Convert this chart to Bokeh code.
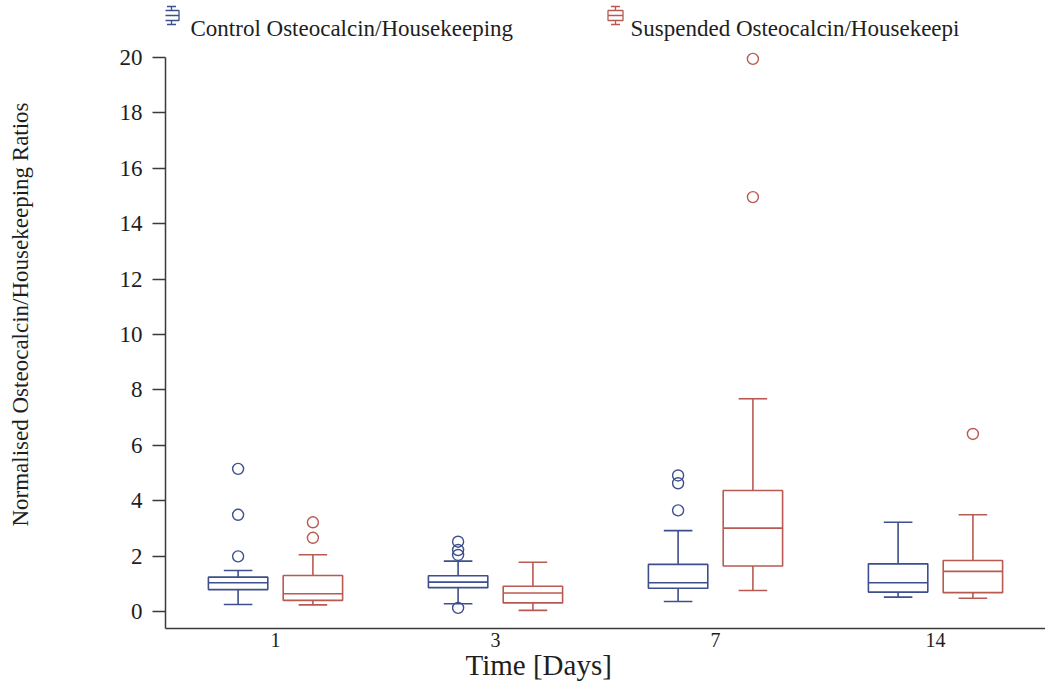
from bokeh.plotting import figure
from bokeh.models import Range1d, Label, ColumnDataSource, FixedTicker, Title
from bokeh.transform import dodge
from bokeh.embed import file_html
from bokeh.resources import INLINE

# ---- data -------------------------------------------------------------
days = ["1", "3", "7", "14"]

# per-day box statistics: lower whisker, Q1, median, Q3, upper whisker
control_lower = [0.25, 0.28, 0.36, 0.52]
control_q1 = [0.79, 0.86, 0.84, 0.70]
control_median = [1.04, 1.06, 1.04, 1.04]
control_q3 = [1.24, 1.29, 1.70, 1.72]
control_upper = [1.48, 1.82, 2.92, 3.22]

suspended_lower = [0.24, 0.04, 0.76, 0.48]
suspended_q1 = [0.40, 0.31, 1.64, 0.68]
suspended_median = [0.64, 0.67, 3.01, 1.45]
suspended_q3 = [1.30, 0.91, 4.37, 1.84]
suspended_upper = [2.05, 1.78, 7.68, 3.49]

control_outlier_days = ["1", "1", "1", "3", "3", "3", "3", "7", "7", "7"]
control_outlier_values = [5.15, 3.49, 1.99, 2.52, 2.22, 2.04, 0.13, 4.91, 4.63, 3.65]

suspended_outlier_days = ["1", "1", "7", "7", "14"]
suspended_outlier_values = [3.22, 2.66, 19.95, 14.96, 6.41]

y_ticks = [0, 2, 4, 6, 8, 10, 12, 14, 16, 18, 20]

control_label = "Control Osteocalcin/Housekeeping"
suspended_label = "Suspended Osteocalcin/Housekeepi"
x_title = "Time [Days]"
y_title = "Normalised Osteocalcin/Housekeeping Ratios"

# each day occupies one unit slot on the x axis, centred at i + 0.5
slot = {d: i + 0.5 for i, d in enumerate(days)}

# ---- styling ----------------------------------------------------------
BLUE = "#3d4f8c"
RED = "#b95a52"
TEXT = "#1e1e1e"
AXIS = "#3a3a3a"
SERIF = "Liberation Serif"
BOX_W = 0.27
CAP_W = 0.13
LW = 1.6

W, H = 1045, 690
LEFT, BOTTOM = 165, 62
FRAME_H = H - BOTTOM

p = figure(
    x_range=Range1d(0, len(days)),
    y_range=Range1d(-0.614, 22.058),
    width=W, height=H,
    output_backend="svg", toolbar_location=None,
    min_border_left=LEFT, min_border_right=0,
    min_border_top=0, min_border_bottom=BOTTOM,
    background_fill_color="white", border_fill_color="white",
)
p.outline_line_color = None
p.xgrid.visible = False
p.ygrid.visible = False

# pixel-space ranges used for the legend
p.extra_x_ranges = {"px": Range1d(LEFT, W)}
p.extra_y_ranges = {"px": Range1d(FRAME_H, 0)}


def draw_series(offset, color, lower, q1, med, q3, upper, out_days, out_vals):
    src = ColumnDataSource(dict(x=[slot[d] for d in days], lower=lower, q1=q1,
                                med=med, q3=q3, upper=upper))
    xc = dodge("x", offset)
    xl = dodge("x", offset - BOX_W / 2)
    xr = dodge("x", offset + BOX_W / 2)
    cl = dodge("x", offset - CAP_W / 2)
    cr = dodge("x", offset + CAP_W / 2)
    p.vbar(x=xc, width=BOX_W, bottom="q1", top="q3", source=src,
           fill_color=None, line_color=color, line_width=LW)
    p.segment(x0=xl, x1=xr, y0="med", y1="med", source=src, line_color=color, line_width=LW)
    p.segment(x0=xc, x1=xc, y0="q3", y1="upper", source=src, line_color=color, line_width=LW)
    p.segment(x0=xc, x1=xc, y0="lower", y1="q1", source=src, line_color=color, line_width=LW)
    p.segment(x0=cl, x1=cr, y0="upper", y1="upper", source=src, line_color=color, line_width=LW)
    p.segment(x0=cl, x1=cr, y0="lower", y1="lower", source=src, line_color=color, line_width=LW)
    osrc = ColumnDataSource(dict(x=[slot[d] for d in out_days], value=out_vals))
    p.scatter(x=dodge("x", offset), y="value", source=osrc,
              marker="circle", size=11, fill_color=None, line_color=color, line_width=1.4)


draw_series(-0.17, BLUE, control_lower, control_q1, control_median, control_q3, control_upper,
            control_outlier_days, control_outlier_values)
draw_series(0.17, RED, suspended_lower, suspended_q1, suspended_median, suspended_q3, suspended_upper,
            suspended_outlier_days, suspended_outlier_values)


# ---- legend: small box-plot icons with labels --------------------------
def legend_entry(x_icon, x_text, color, text):
    kw = dict(x_range_name="px", y_range_name="px", line_color=color, line_width=1.3)
    p.quad(left=[x_icon - 7.5], right=[x_icon + 7.5], top=[10], bottom=[20], fill_color=None, **kw)
    p.segment(x0=[x_icon - 7.5], x1=[x_icon + 7.5], y0=[15], y1=[15], **kw)
    p.segment(x0=[x_icon, x_icon], x1=[x_icon, x_icon], y0=[6, 20], y1=[10, 24], **kw)
    p.segment(x0=[x_icon - 4.5, x_icon - 4.5], x1=[x_icon + 4.5, x_icon + 4.5], y0=[6, 24], y1=[6, 24], **kw)
    p.add_layout(Label(x=x_text, y=28, x_range_name="px", y_range_name="px", text=text,
                       text_font=SERIF, text_font_size="23px", text_color=TEXT,
                       text_baseline="alphabetic", text_align="left"))


legend_entry(171, 190, BLUE, control_label)
legend_entry(615, 630, RED, suspended_label)

# ---- axes ---------------------------------------------------------------
ya = p.yaxis[0]
ya.ticker = y_ticks
ya.bounds = (-0.614, 20)
ya.major_tick_out = 13
ya.major_tick_in = 0
ya.minor_tick_out = 0
ya.minor_tick_in = 0
ya.major_label_standoff = 10
ya.major_label_text_font = SERIF
ya.major_label_text_font_size = "23px"
ya.major_label_text_color = TEXT
ya.axis_line_color = AXIS
ya.axis_line_width = 1.5
ya.major_tick_line_color = AXIS
ya.major_tick_line_width = 1.3
ya.axis_label = y_title
ya.axis_label_text_font = SERIF
ya.axis_label_text_font_size = "23px"
ya.axis_label_text_font_style = "normal"
ya.axis_label_text_color = TEXT
ya.axis_label_standoff = 84

xa = p.xaxis[0]
xa.ticker = FixedTicker(ticks=[slot[d] for d in days])
xa.major_label_overrides = {slot[d]: d for d in days}
xa.major_tick_out = 0
xa.major_tick_in = 0
xa.minor_tick_out = 0
xa.minor_tick_in = 0
xa.major_label_standoff = 4
xa.major_label_text_font = SERIF
xa.major_label_text_font_size = "20px"
xa.major_label_text_color = TEXT
xa.axis_line_color = AXIS
xa.axis_line_width = 1.5

# x title, shifted left of the frame centre
p.add_layout(Title(text=x_title, align="left", offset=300, standoff=-6,
                   text_font=SERIF, text_font_size="29px", text_font_style="normal",
                   text_color=TEXT), "below")

open("out.html", "w").write(file_html(p, INLINE))
